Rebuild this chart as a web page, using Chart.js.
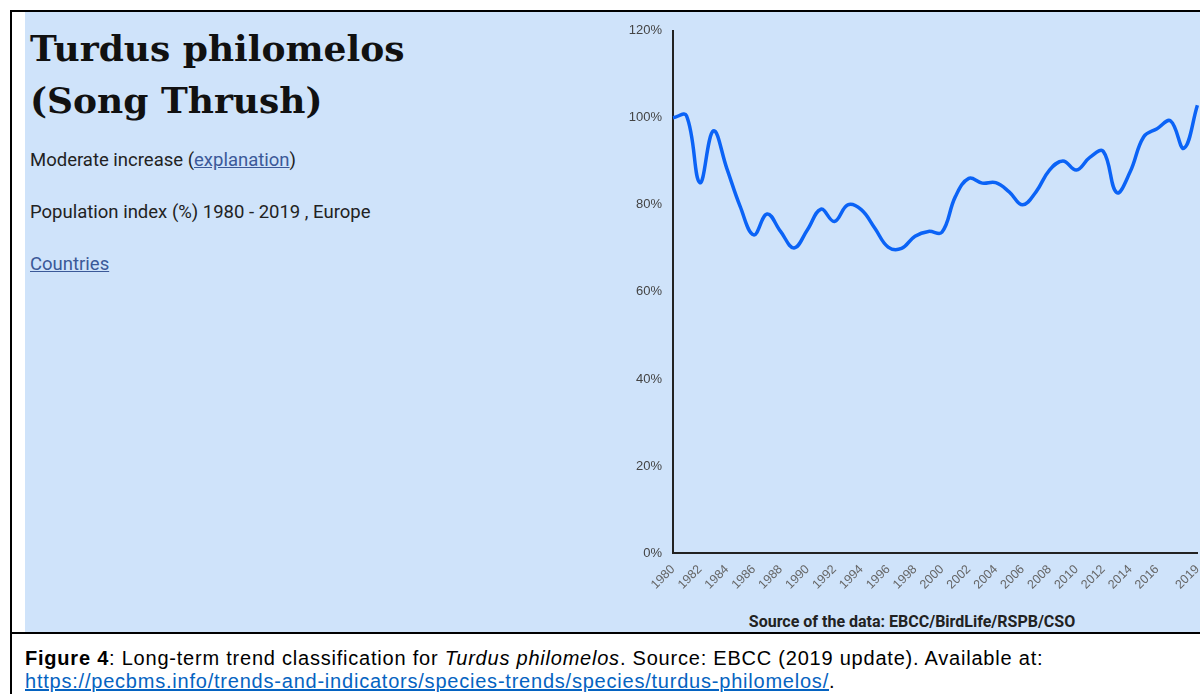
<!DOCTYPE html>
<html>
<head>
<meta charset="utf-8">
<script src="https://cdn.jsdelivr.net/npm/chart.js@4"></script>
<style>
  html, body { margin: 0; padding: 0; background: #fff; }
  body { width: 1200px; height: 694px; overflow: hidden; position: relative; font-family: Roboto, Arial, sans-serif; }
  .frame { position: absolute; left: 10px; top: 10px; width: 1300px; height: 700px; border-left: 2px solid #000; border-top: 2px solid #000; }
  .panel { position: absolute; left: 25px; top: 12px; width: 1200px; height: 620px; background: #cfe3fa; }
  .rowline { position: absolute; left: 10px; top: 632px; width: 1300px; height: 2px; background: #000; }
  h1 { position: absolute; left: 30px; top: 22px; margin: 0; font-family: "DejaVu Serif", serif; font-weight: bold; font-size: 36px; line-height: 52px; color: #111; }
  .txt { position: absolute; left: 30px; font-size: 18.5px; color: #222; }
  .txt a { color: #3b5998; }
  .chartbox { position: absolute; left: 600px; top: 12px; width: 617px; height: 600px; }
  .source { position: absolute; left: 712px; top: 612px; width: 400px; text-align: center; font-weight: bold; font-size: 16px; color: #222; }
  .caption { position: absolute; left: 25px; top: 647px; font-family: "Liberation Sans", Arial, sans-serif; font-size: 20px; line-height: 23px; letter-spacing: 0.78px; color: #000; white-space: nowrap; }
  .caption a { color: #0563c1; }
</style>
</head>
<body>
<div class="frame"></div>
<div class="panel"></div>
<div class="rowline"></div>
<h1>Turdus philomelos<br>(Song Thrush)</h1>
<div class="txt" style="top:149px">Moderate increase (<a href="#">explanation</a>)</div>
<div class="txt" style="top:201px">Population index (%) 1980 - 2019 , Europe</div>
<div class="txt" style="top:253px"><a href="#">Countries</a></div>
<div class="chartbox"><canvas id="myChart"></canvas></div>
<div class="source">Source of the data: EBCC/BirdLife/RSPB/CSO</div>
<div class="caption"><b>Figure 4</b>: Long-term trend classification for <i>Turdus philomelos</i>. Source: EBCC (2019 update). Available at:<br><a href="#">https://pecbms.info/trends-and-indicators/species-trends/species/turdus-philomelos/</a>.</div>

<script>
// Годы и значения индекса (%)
const years = Array.from({ length: 40 }, (_, i) => String(1980 + i));
const indexValues = [
  100.0, 100.5, 85.1, 97.0, 88.4, 79.6, 73.1, 77.9, 73.9, 70.1,
  74.3, 79.0, 76.2, 80.0, 78.9, 74.7, 70.3, 70.0, 72.8, 73.9,
  73.7, 81.9, 86.1, 85.0, 85.1, 83.0, 80.0, 83.0, 88.0, 90.1,
  88.0, 90.9, 92.3, 82.8, 87.6, 95.6, 97.5, 99.3, 93.0, 102.9,
];
const yTicks = [0, 20, 40, 60, 80, 100, 120];

const data = {
  labels: years,
  datasets: [
    {
      label: "Population index",
      data: indexValues,
      borderColor: "#0b63f6",
      borderWidth: 3.5,
      pointRadius: 0,
      tension: 0.4,
      fill: false,
    },
  ],
};

const config = {
  type: "line",
  data,
  options: {
    responsive: true,
    maintainAspectRatio: false,
    animation: false,
    layout: { padding: { top: 18, right: 13, bottom: 0, left: 0 } },
    plugins: { legend: { display: false }, tooltip: { enabled: false } },
    scales: {
      x: {
        grid: { display: false, drawTicks: false },
        border: { display: true, color: "#222", width: 2 },
        afterFit: (scale) => { scale.height = 59; },
        ticks: {
          autoSkip: false,
          minRotation: 45,
          maxRotation: 45,
          padding: 9,
          color: "#666",
          font: { family: "Arial, 'Liberation Sans'", size: 12.5 },
          callback: function (val, i) {
            const y = 1980 + i;
            return (y % 2 === 0 && y <= 2016) || i === years.length - 1 ? years[i] : null;
          },
        },
      },
      y: {
        min: yTicks[0],
        max: yTicks[yTicks.length - 1],
        grid: { display: false, drawTicks: false },
        border: { display: true, color: "#222", width: 2 },
        afterFit: (scale) => { scale.width = 73; },
        afterBuildTicks: (scale) => { scale.ticks = yTicks.map((v) => ({ value: v })); },
        ticks: {
          padding: 11,
          color: "#444",
          font: { family: "Arial, 'Liberation Sans'", size: 13 },
          callback: (v) => v + "%",
        },
      },
    },
  },
};

const myChart = new Chart(document.getElementById("myChart"), config);
</script>
</body>
</html>
